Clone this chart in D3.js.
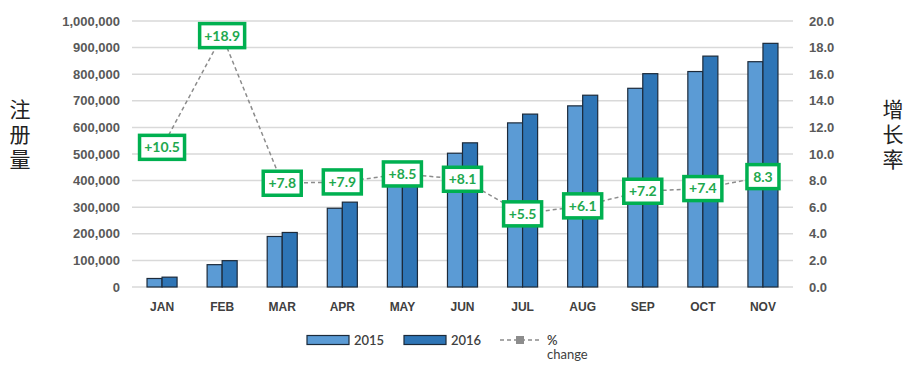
<!DOCTYPE html>
<html>
<head>
<meta charset="utf-8">
<script src="https://cdn.jsdelivr.net/npm/d3@7"></script>
<style>
  body { margin: 0; background: #fff; }
  svg { display: block; font-family: Lato, "Open Sans", sans-serif; }
</style>
</head>
<body>
<svg id="chart" width="916" height="377"></svg>
<script>
const months = ["JAN", "FEB", "MAR", "APR", "MAY", "JUN", "JUL", "AUG", "SEP", "OCT", "NOV"];
const reg2015 = [32000, 84000, 190000, 296000, 395000, 503000, 617000, 681000, 747000, 810000, 847000];
const reg2016 = [37000, 99000, 205000, 319000, 425000, 542000, 650000, 721000, 802000, 868000, 916000];
const pctChange = [10.5, 18.9, 7.8, 7.9, 8.5, 8.1, 5.5, 6.1, 7.2, 7.4, 8.3];
const pctLabels = ["+10.5", "+18.9", "+7.8", "+7.9", "+8.5", "+8.1", "+5.5", "+6.1", "+7.2", "+7.4", "8.3"];
const leftTicks = [0, 100000, 200000, 300000, 400000, 500000, 600000, 700000, 800000, 900000, 1000000];
const rightTicks = [0, 2, 4, 6, 8, 10, 12, 14, 16, 18, 20];
const seriesNames = ["2015", "2016"];

const colors = { "2015": "#5b9bd5", "2016": "#2e75b6" };
const green = "#00b050";

const svg = d3.select("#chart");
const plotLeft = 132, plotRight = 793, plotTop = 21, plotBottom = 287;

const x = d3.scaleBand().domain(months).range([plotLeft, plotRight]).paddingInner(0.5).paddingOuter(0.25);
const xSub = d3.scaleBand().domain(seriesNames).range([0, x.bandwidth()]);
const yL = d3.scaleLinear().domain([0, 1000000]).range([plotBottom, plotTop]);
const yR = d3.scaleLinear().domain([0, 20]).range([plotBottom, plotTop]);

// gridlines
svg.append("g")
    .selectAll("line")
    .data(leftTicks)
    .enter()
    .append("line")
    .attr("x1", plotLeft)
    .attr("x2", plotRight)
    .attr("y1", d => yL(d))
    .attr("y2", d => yL(d))
    .attr("stroke", "#d9d9d9")
    .attr("stroke-width", 1.5);

// left axis
const leftAxis = svg.append("g")
    .attr("transform", `translate(${plotLeft - 9},0)`)
    .call(d3.axisLeft(yL).tickValues(leftTicks).tickSize(0).tickFormat(d3.format(",")));
leftAxis.select(".domain").remove();
leftAxis.selectAll("text")
    .attr("fill", "#595959")
    .style("font-size", "13px")
    .style("font-weight", "600");

// right axis
const rightAxis = svg.append("g")
    .attr("transform", `translate(${plotRight + 13},0)`)
    .call(d3.axisRight(yR).tickValues(rightTicks).tickSize(0).tickFormat(d3.format(".1f")));
rightAxis.select(".domain").remove();
rightAxis.selectAll("text")
    .attr("fill", "#595959")
    .style("font-size", "13px")
    .style("font-weight", "600");

// month axis
const bottomAxis = svg.append("g")
    .attr("transform", `translate(0,${plotBottom + 10})`)
    .call(d3.axisBottom(x).tickSize(0));
bottomAxis.select(".domain").remove();
bottomAxis.selectAll("text")
    .attr("fill", "#404040")
    .attr("dy", "0.9em")
    .style("font-size", "12px")
    .style("font-weight", "bold");

// bars
const rows = months.map((m, i) => ({ month: m, values: [reg2015[i], reg2016[i]] }));
const groups = svg.append("g")
    .selectAll("g")
    .data(rows)
    .enter()
    .append("g")
    .attr("transform", d => `translate(${x(d.month)},0)`);

groups.selectAll("rect")
    .data(d => d.values.map((v, j) => ({ key: seriesNames[j], value: v })))
    .enter()
    .append("rect")
    .attr("x", d => xSub(d.key))
    .attr("width", xSub.bandwidth())
    .attr("y", d => yL(d.value))
    .attr("height", d => plotBottom - yL(d.value))
    .attr("fill", d => colors[d.key])
    .attr("stroke", "#1c2a3a")
    .attr("stroke-width", 1.2);

// % change line
const pts = months.map((m, i) => ({ month: m, value: pctChange[i], label: pctLabels[i] }));
const line = d3.line()
    .x(d => x(d.month) + x.bandwidth() / 2)
    .y(d => yR(d.value));

svg.append("path")
    .datum(pts)
    .attr("d", line)
    .attr("fill", "none")
    .attr("stroke", "#8c8c8c")
    .attr("stroke-width", 1.5)
    .attr("stroke-dasharray", "4,3");

const labels = svg.append("g")
    .selectAll("g")
    .data(pts)
    .enter()
    .append("g")
    .attr("transform", d => `translate(${x(d.month) + x.bandwidth() / 2},${yR(d.value)})`);

labels.append("rect")
    .attr("x", d => d.label.length > 4 ? -22.5 : (d.label.length > 3 ? -19 : -16))
    .attr("width", d => d.label.length > 4 ? 45 : (d.label.length > 3 ? 38 : 32))
    .attr("y", -12)
    .attr("height", 24)
    .attr("fill", "#fff")
    .attr("stroke", green)
    .attr("stroke-width", 3.5);

labels.append("text")
    .attr("text-anchor", "middle")
    .attr("dy", "0.35em")
    .attr("fill", "#1ea84e")
    .style("font-size", "14px")
    .style("font-weight", "bold")
    .text(d => d.label);

// axis titles (vertical text)
const titleStyle = sel => sel
    .attr("text-anchor", "middle")
    .attr("fill", "#222")
    .style("writing-mode", "vertical-rl")
    .style("letter-spacing", "4px")
    .style("font-family", "'Noto Sans CJK SC', sans-serif")
    .style("font-size", "21px");

svg.append("text").attr("x", 20).attr("y", 136).call(titleStyle).text("注册量");
svg.append("text").attr("x", 893).attr("y", 136).call(titleStyle).text("增长率");

// legend
const legend = svg.append("g").attr("transform", "translate(307,340)");
seriesNames.forEach((s, i) => {
    const g = legend.append("g").attr("transform", `translate(${i * 97},0)`);
    g.append("rect")
        .attr("x", 0).attr("y", -4.5)
        .attr("width", 42).attr("height", 9)
        .attr("fill", colors[s])
        .attr("stroke", "#1c2a3a")
        .attr("stroke-width", 1.2);
    g.append("text")
        .attr("x", 47).attr("dy", "0.35em")
        .attr("fill", "#404040")
        .style("font-size", "13px")
        .style("font-weight", "600")
        .text(s);
});
const lg = legend.append("g").attr("transform", "translate(193,0)");
lg.append("line")
    .attr("x1", 0).attr("x2", 42)
    .attr("stroke", "#8c8c8c")
    .attr("stroke-width", 1.5)
    .attr("stroke-dasharray", "4,3");
lg.append("rect")
    .attr("x", 16).attr("y", -4)
    .attr("width", 8).attr("height", 8)
    .attr("fill", "#8c8c8c");
lg.append("text")
    .attr("x", 47).attr("dy", "0.35em")
    .attr("fill", "#404040")
    .style("font-size", "13px")
    .style("font-weight", "600")
    .text("%");
lg.append("text")
    .attr("x", 47).attr("y", 19)
    .attr("fill", "#404040")
    .style("font-size", "13px")
    .text("change");
</script>
</body>
</html>
